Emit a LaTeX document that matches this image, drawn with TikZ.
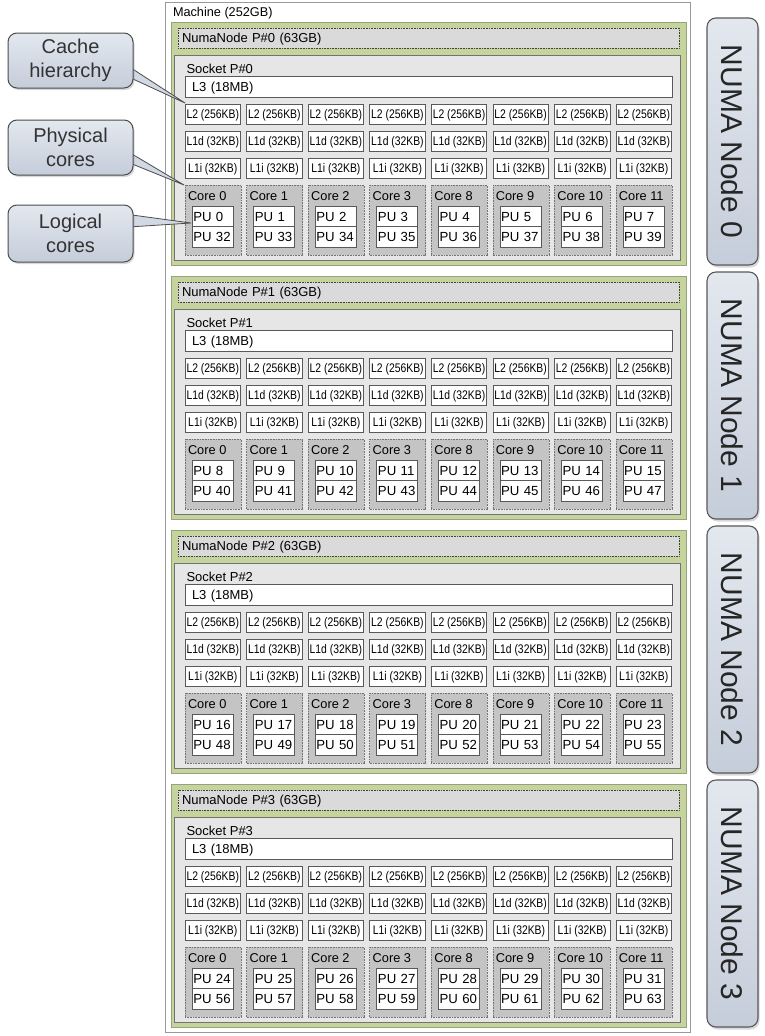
\documentclass[tikz,border=0pt]{standalone}
\usepackage{fontspec}
\setmainfont{Liberation Sans}
\newfontfamily\narrowfont[FakeStretch=0.83]{Liberation Sans}
\usetikzlibrary{shadows,calc}
\pgfdeclarelayer{front}
\pgfsetlayers{main,front}
\definecolor{numagreen}{HTML}{C5D49C}
\definecolor{numagreenline}{HTML}{97A37A}
\definecolor{hdrgray}{HTML}{DADADA}
\definecolor{sockgray}{HTML}{E6E6E6}
\definecolor{coregray}{HTML}{C4C4C4}
\definecolor{calltop}{HTML}{E3E8EF}
\definecolor{callbot}{HTML}{C5CDDA}
\definecolor{callmid}{HTML}{D2D9E4}
\definecolor{calltext}{HTML}{333333}
\newcommand\myfs[1]{\fontsize{#1}{#1}\selectfont}
\begin{document}
\begin{tikzpicture}[x=1pt,y=-1pt,
 every node/.style={inner sep=0pt,outer sep=0pt},
 box/.style={rectangle,anchor=north west},
 machinebox/.style={box,draw=black!40,fill=white,line width=0.6pt,minimum width=525pt,minimum height=1030pt},
 greenbox/.style={box,fill=numagreen,draw=numagreenline,line width=0.6pt,minimum width=515pt,minimum height=243pt},
 hdrbox/.style={box,fill=hdrgray,draw=black!75,densely dotted,line width=0.6pt,text width=493pt,inner xsep=4pt,align=left,minimum height=20pt,text height=9.3pt,text depth=0pt,font=\myfs{13}},
 sockbox/.style={box,fill=sockgray,draw=black!55,line width=0.6pt,minimum width=506pt,minimum height=205pt},
 l3box/.style={box,fill=white,draw=black!65,line width=0.6pt,text width=473pt,inner xsep=7pt,align=left,minimum height=21pt,text height=9.3pt,text depth=0pt,font=\myfs{13}},
 cachebox/.style={box,fill=white,draw=black!65,line width=0.6pt,minimum width=55.5pt,minimum height=20pt,text height=9pt,text depth=0pt,font=\narrowfont\myfs{12.5}},
 corebox/.style={box,fill=coregray,draw=black!55,densely dotted,line width=0.6pt,minimum width=56pt,minimum height=70pt},
 pubox/.style={box,fill=white,draw=black!65,line width=0.6pt,text width=38.5pt,inner xsep=1.25pt,align=left,minimum height=20.5pt,text height=9.5pt,text depth=0pt,font=\myfs{13.2}},
 lbl/.style={anchor=base west,font=\myfs{13}},
 callout/.style={rectangle,rounded corners=9pt,draw=black!70,line width=1pt,top color=calltop,bottom color=callbot,minimum width=125pt,align=center,font=\fontsize{20}{24}\selectfont,text=calltext,drop shadow={opacity=0.3,shadow xshift=1.5pt,shadow yshift=-2pt}},
 wedge/.style={fill=callmid,draw=black!70,line width=0.8pt,line join=round},
 numabox/.style={rectangle,rounded corners=9pt,draw=black!65,line width=1.1pt,top color=calltop,bottom color=callbot,minimum width=51pt,minimum height=247pt,anchor=north west,drop shadow={opacity=0.3,shadow xshift=1.5pt,shadow yshift=-2.5pt}},
 numatext/.style={rotate=-90,font=\myfs{30},text=black!85}
]
\useasboundingbox (0,0) rectangle (765,1036);
\fill[white] (0,0) rectangle (765,1036);
\node[machinebox] (machine) at (165,2) {};
\node[lbl,font=\myfs{12.7}] (machinet) at (173,16.7) {Machine (252GB)};
\foreach \g in {0,1,2,3}{
 \pgfmathsetmacro\oy{254*\g}
 \node[greenbox] (grp\g) at (171,22+\oy) {};
 \node[hdrbox] (hdr\g) at (178,28+\oy) {NumaNode P\#\g{} (63GB)};
 \node[sockbox] (sock\g) at (174,55+\oy) {};
 \node[lbl] (sockt\g) at (186.5,73.3+\oy) {Socket P\#\g};
 \node[l3box] (ltri\g) at (185,76+\oy) {L3 (18MB)};
 \foreach \k/\c in {0/0,1/1,2/2,3/3,4/8,5/9,6/10,7/11}{
   \pgfmathsetmacro\ox{185+61.57*\k}
   \pgfmathtruncatemacro\pa{8*\g+\k}
   \pgfmathtruncatemacro\pb{32+8*\g+\k}
   \node[cachebox] (ltwo\g\k) at (\ox,104+\oy) {L2 (256KB)};
   \node[cachebox] (lod\g\k) at (\ox,131+\oy) {L1d (32KB)};
   \node[cachebox] (loi\g\k) at (\ox,158+\oy) {L1i (32KB)};
   \node[corebox] (core\g\k) at (\ox,185+\oy) {};
   \node[lbl,font=\myfs{12.8}] (coret\g\k) at (\ox+3,200+\oy) {Core \c};
   \node[pubox] (pua\g\k) at (\ox+7,206+\oy) {PU \pa};
   \node[pubox] (pub\g\k) at (\ox+7,226.5+\oy) {PU \pb};
 }
 \node[numabox] (nn\g) at (707,18+\oy) {};
 \node[numatext] (nnt\g) at (nn\g.center) {NUMA Node \g};
}
\begin{pgfonlayer}{front}
\node[callout,minimum height=55pt] (cache) at (70.5,60.5) {Cache\\hierarchy};
\node[callout,minimum height=55pt] (phys) at (70.5,147.5) {Physical\\cores};
\node[callout,minimum height=57pt] (logic) at (70.5,233.5) {Logical\\cores};
\end{pgfonlayer}
\coordinate (tcache) at (185,103);
\coordinate (tphys) at (184,185);
\coordinate (tlogic) at (191,223);
\filldraw[wedge] ($(cache.east)+(-12,1)$) -- (tcache) -- ($(cache.east)+(-12,13)$) -- cycle;
\filldraw[wedge] ($(phys.east)+(-12,0)$) -- (tphys) -- ($(phys.east)+(-12,12)$) -- cycle;
\filldraw[wedge] ($(logic.east)+(-12,-20)$) -- (tlogic) -- ($(logic.east)+(-12,-6)$) -- cycle;
\end{tikzpicture}
\end{document}
